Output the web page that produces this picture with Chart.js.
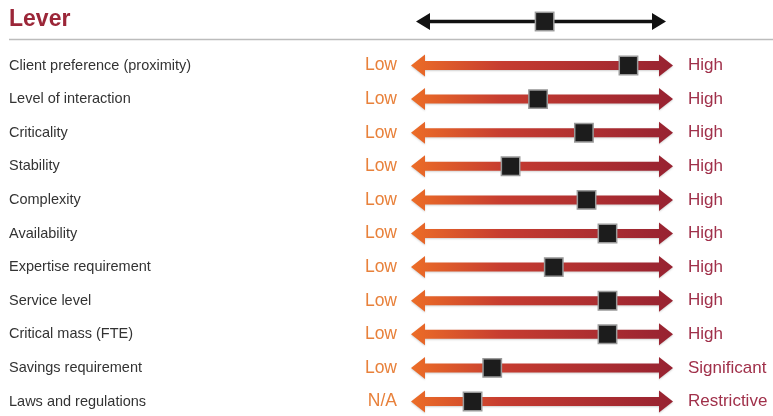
<!DOCTYPE html>
<html>
<head>
<meta charset="utf-8">
<script src="https://cdn.jsdelivr.net/npm/chart.js@4.4.0/dist/chart.umd.min.js"></script>
<style>
  html, body { margin: 0; padding: 0; background: #fff; }
</style>
</head>
<body>
<canvas id="leverChart" width="773" height="416"></canvas>
<script>
const levers = [
  'Client preference (proximity)',
  'Level of interaction',
  'Criticality',
  'Stability',
  'Complexity',
  'Availability',
  'Expertise requirement',
  'Service level',
  'Critical mass (FTE)',
  'Savings requirement',
  'Laws and regulations'
];
const lowLabels = ['Low', 'Low', 'Low', 'Low', 'Low', 'Low', 'Low', 'Low', 'Low', 'Low', 'N/A'];
const highLabels = ['High', 'High', 'High', 'High', 'High', 'High', 'High', 'High', 'High', 'Significant', 'Restrictive'];
// marker position on each arrow, 0 = low end, 100 = high end
const positions = [83, 48.5, 66, 38, 67, 75, 54.5, 75, 75, 31, 23.5];
const headerPosition = 51;

const FONT = "'Liberation Sans', Arial, Helvetica, sans-serif";

function arrowPath(ctx, x0, x1, yc, shaft, head, len) {
  ctx.beginPath();
  ctx.moveTo(x0, yc);
  ctx.lineTo(x0 + len, yc - head);
  ctx.lineTo(x0 + len, yc - shaft);
  ctx.lineTo(x1 - len, yc - shaft);
  ctx.lineTo(x1 - len, yc - head);
  ctx.lineTo(x1, yc);
  ctx.lineTo(x1 - len, yc + head);
  ctx.lineTo(x1 - len, yc + shaft);
  ctx.lineTo(x0 + len, yc + shaft);
  ctx.lineTo(x0 + len, yc + head);
  ctx.closePath();
}

const arrowPlugin = {
  id: 'arrows',
  beforeDatasetsDraw(chart) {
    const { ctx, scales: { x, y } } = chart;
    const x0 = x.getPixelForValue(0);
    const x1 = x.getPixelForValue(100);
    const top = y.getPixelForValue(0);

    const grad = ctx.createLinearGradient(x0, 0, x1, 0);
    grad.addColorStop(0, '#ec6d27');
    grad.addColorStop(0.35, '#c63c30');
    grad.addColorStop(1, '#972231');

    ctx.save();
    levers.forEach((_, i) => {
      const yc = y.getPixelForValue(i);
      arrowPath(ctx, x0, x1, yc, 4.5, 11, 14);
      ctx.shadowColor = 'rgba(0,0,0,0.18)';
      ctx.shadowBlur = 2;
      ctx.shadowOffsetY = 1;
      ctx.fillStyle = grad;
      ctx.fill();
    });
    ctx.shadowColor = 'transparent';

    // separator under the header
    const lineY = top - 26;
    ctx.strokeStyle = '#bcbcbc';
    ctx.lineWidth = 1.5;
    ctx.beginPath();
    ctx.moveTo(9, lineY);
    ctx.lineTo(chart.width, lineY);
    ctx.stroke();

    // header arrow
    const hy = top - 44;
    arrowPath(ctx, x0 + 5, x1 - 7, hy, 1.8, 8.5, 14);
    ctx.fillStyle = '#111';
    ctx.fill();
    const hx = x.getPixelForValue(headerPosition);
    ctx.fillStyle = '#1c1c1c';
    ctx.fillRect(hx - 9.2, hy - 9.2, 18.4, 18.4);
    ctx.strokeStyle = '#9a9a9a';
    ctx.lineWidth = 1.5;
    ctx.strokeRect(hx - 9.2, hy - 9.2, 18.4, 18.4);
    ctx.restore();
  }
};

const hiddenGrid = { display: false, drawTicks: false };

function fixWidth(w) {
  return function (scale) {
    scale.width = w;
    scale.paddingTop = 0;
    scale.paddingBottom = 0;
  };
}

new Chart(document.getElementById('leverChart'), {
  type: 'scatter',
  data: {
    datasets: [{
      data: levers.map((l, i) => ({ x: positions[i], y: l })),
      pointStyle: 'rect',
      pointRadius: 13,
      pointHoverRadius: 13,
      backgroundColor: '#1c1c1c',
      borderColor: '#9a9a9a',
      borderWidth: 1.5,
      clip: false
    }]
  },
  options: {
    responsive: false,
    animation: false,
    events: [],
    layout: { padding: { left: 9, right: 0, top: 0, bottom: 10.5 } },
    plugins: {
      legend: { display: false },
      tooltip: { enabled: false },
      title: {
        display: true,
        text: 'Lever',
        align: 'start',
        color: '#9b2638',
        font: { family: FONT, size: 23, weight: 'bold' },
        padding: { top: 5.5, bottom: 32.4 }
      }
    },
    scales: {
      x: { type: 'linear', min: 0, max: 100, display: false },
      y: {
        type: 'category',
        labels: levers,
        position: 'left',
        weight: 2,
        grid: hiddenGrid,
        border: { display: false },
        afterFit: fixWidth(330),
        ticks: {
          crossAlign: 'far',
          autoSkip: false,
          padding: 0,
          color: '#333',
          font: { family: FONT, size: 14.5 }
        }
      },
      yLow: {
        type: 'category',
        labels: lowLabels,
        position: 'left',
        weight: 1,
        grid: hiddenGrid,
        border: { display: false },
        afterFit: fixWidth(72),
        ticks: {
          autoSkip: false,
          padding: 14,
          color: '#e8813b',
          font: { family: FONT, size: 17.5 }
        }
      },
      yHigh: {
        type: 'category',
        labels: highLabels,
        position: 'right',
        grid: hiddenGrid,
        border: { display: false },
        afterFit: fixWidth(100),
        ticks: {
          autoSkip: false,
          padding: 15,
          color: '#a0304a',
          font: { family: FONT, size: 17 }
        }
      }
    }
  },
  plugins: [arrowPlugin]
});
</script>
</body>
</html>
